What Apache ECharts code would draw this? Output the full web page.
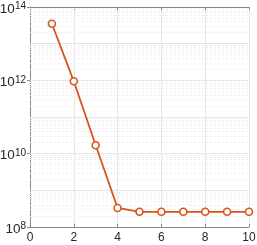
<!DOCTYPE html>
<html><head><meta charset="utf-8">
<script src="https://cdn.jsdelivr.net/npm/echarts@6/dist/echarts.min.js"></script>
<style>html,body{margin:0;padding:0;background:#fff}#c{width:257px;height:245px}</style>
</head><body><div id="c"></div>
<script>
const xValues = [1, 2, 3, 4, 5, 6, 7, 8, 9, 10];
const yValues = [3.5e13, 9.4e11, 1.7e10, 3.3e8, 2.6e8, 2.6e8, 2.6e8, 2.6e8, 2.6e8, 2.6e8];
const xTicks = [0, 2, 4, 6, 8, 10];
const yDecades = [8, 10, 12, 14];
const minorMultipliers = [2, 3, 4, 5, 6, 7, 8, 9];

const minorLines = [];
for (let e = 8; e < 14; e++) for (const m of minorMultipliers) minorLines.push({ yAxis: m * Math.pow(10, e) });
const majorLines = [];
for (let e = 9; e < 14; e++) majorLines.push({ yAxis: Math.pow(10, e) });

const axisColor = '#8a8a8a';
const chart = echarts.init(document.getElementById('c'));
chart.setOption({
  animation: false,
  grid: { left: 30, right: 8, top: 7, bottom: 18, containLabel: false, outerBoundsMode: 'none' },
  xAxis: [{
    type: 'value', min: 0, max: 10, interval: 2,
    axisLine: { lineStyle: { color: axisColor } },
    axisTick: { inside: true, length: 3, lineStyle: { color: axisColor } },
    axisLabel: { color: '#262626', fontSize: 12, fontFamily: 'Liberation Sans', margin: 5 },
    splitLine: { lineStyle: { color: '#e6e6e6' } }
  }, {
    type: 'value', min: 0, max: 10, interval: 2, position: 'top',
    axisLine: { show: true, lineStyle: { color: axisColor } },
    axisTick: { inside: true, length: 3, lineStyle: { color: axisColor } },
    axisLabel: { show: false }, splitLine: { show: false }
  }],
  yAxis: [{
    type: 'log', logBase: 10, min: 1e8, max: 1e14, interval: 2,
    axisLine: { show: true, lineStyle: { color: axisColor } },
    axisTick: { inside: true, length: 3, lineStyle: { color: axisColor } },
    splitLine: { lineStyle: { color: '#e6e6e6' } },
    axisLabel: {
      margin: 4, color: '#262626', padding: [4, 0, 0, 0],
      formatter: function (v) { return '{b|10}{s|' + Math.round(Math.log10(v)) + '}'; },
      rich: {
        b: { fontSize: 13.5, fontFamily: 'Liberation Sans', color: '#262626' },
        s: { fontSize: 10, fontFamily: 'Liberation Sans', color: '#262626', padding: [0, 0, 5, 0] }
      }
    }
  }, {
    type: 'log', logBase: 10, min: 1e8, max: 1e14, interval: 2, position: 'right',
    axisLine: { show: true, lineStyle: { color: axisColor } },
    axisTick: { inside: true, length: 3, lineStyle: { color: axisColor } },
    axisLabel: { show: false }, splitLine: { show: false }
  }],
  series: [{
    type: 'line', xAxisIndex: 0, yAxisIndex: 0,
    data: xValues.map((x, i) => [x, yValues[i]]),
    symbol: 'circle', symbolSize: 7, showSymbol: true,
    lineStyle: { color: '#D95319', width: 1.8 },
    itemStyle: { color: '#fff', borderColor: '#D95319', borderWidth: 1.6 },
    z: 10,
    markLine: {
      silent: true, symbol: 'none', label: { show: false }, animation: false,
      data: minorLines.map(d => Object.assign({}, d, { lineStyle: { color: '#efefef', type: [2, 2], width: 1 } }))
        .concat(majorLines.map(d => Object.assign({}, d, { lineStyle: { color: '#e6e6e6', type: 'solid', width: 1 } })))
    }
  }]
});
</script></body></html>
